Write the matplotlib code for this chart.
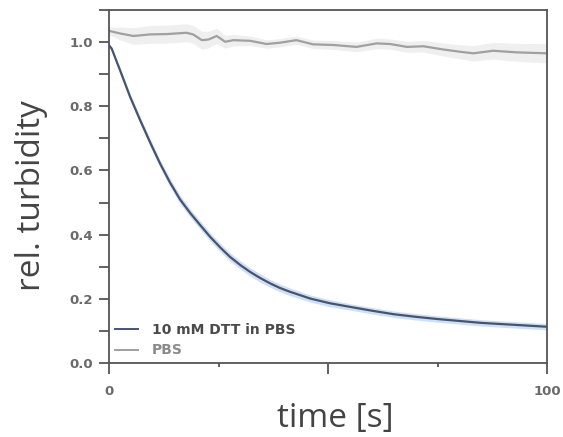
import matplotlib
matplotlib.use("Agg")
import matplotlib.pyplot as plt
import numpy as np
from matplotlib.ticker import FixedLocator

# ---- data ----
t_dtt = [0, 0.6, 2.5, 4.8, 7.1, 9.4, 11.6, 13.9, 16.2, 18.5, 20.8, 23.1, 25.4, 27.6,
         30, 32.2, 34.5, 36.8, 39, 41.3, 45.9, 50.5, 55, 60, 65, 70, 75, 80, 85, 90,
         95, 100]
y_dtt = [0.99, 0.98, 0.913, 0.83, 0.757, 0.687, 0.623, 0.563, 0.51, 0.468, 0.43,
         0.393, 0.36, 0.331, 0.305, 0.284, 0.265, 0.248, 0.234, 0.222, 0.201, 0.186,
         0.175, 0.163, 0.152, 0.144, 0.137, 0.131, 0.125, 0.121, 0.117, 0.113]
err_dtt = [0.004, 0.005, 0.008, 0.01, 0.011, 0.012, 0.012, 0.013, 0.013, 0.013, 0.013,
           0.013, 0.013, 0.013, 0.013, 0.013, 0.013, 0.012, 0.012, 0.012, 0.011, 0.011,
           0.01, 0.01, 0.01, 0.01, 0.01, 0.01, 0.01, 0.01, 0.01, 0.01]

t_pbs = [0, 2.5, 5.6, 9.4, 13.2, 17.7, 19.2, 21.2, 22.7, 24.6, 26.5, 28.4, 32.2, 36,
         39, 42.8, 46.6, 51.2, 56.5, 61.1, 64.2, 68, 71.8, 76.3, 80.1, 83.2, 87.7,
         93.1, 100]
y_pbs = [1.035, 1.027, 1.019, 1.024, 1.025, 1.029, 1.024, 1.006, 1.008, 1.019, 1.001,
         1.006, 1.004, 0.994, 0.998, 1.006, 0.993, 0.991, 0.985, 0.996, 0.994, 0.985,
         0.987, 0.977, 0.970, 0.965, 0.973, 0.968, 0.965]
err_pbs = [0.012, 0.02, 0.026, 0.028, 0.028, 0.028, 0.028, 0.028, 0.026, 0.024, 0.02,
           0.018, 0.015, 0.013, 0.013, 0.013, 0.013, 0.014, 0.015, 0.016, 0.016, 0.017,
           0.018, 0.02, 0.022, 0.024, 0.026, 0.028, 0.03]

labels = ["10 mM DTT in PBS", "PBS"]
x_major = [0, 50, 100]
x_minor = [25, 75]
x_ticklabels = ["0", "", "100"]
y_major = [0.0, 0.2, 0.4, 0.6, 0.8, 1.0]
y_minor = [0.1, 0.3, 0.5, 0.7, 0.9, 1.1]

# ---- figure ----
fig = plt.figure(figsize=(5.63, 4.37), dpi=100)
ax = fig.add_axes([109/563, 1 - 363/437, (547-109)/563, (363-10)/437])

spine_c = "#555555"
td = np.array(t_dtt); yd = np.array(y_dtt); ed = np.array(err_dtt)
tp = np.array(t_pbs); yp = np.array(y_pbs); ep = np.array(err_pbs)

ax.fill_between(tp, yp - ep, yp + ep, color="#efefef", lw=0, zorder=1)
ax.fill_between(td, yd - ed, yd + ed, color="#cfe0f6", lw=0, zorder=1)
l1, = ax.plot(td, yd, color="#465470", lw=1.6, zorder=3, label=labels[0])
l2, = ax.plot(tp, yp, color="#a0a0a0", lw=1.6, zorder=2, label=labels[1])

ax.set_xlim(0, 100)
ax.set_ylim(0, 1.10)

for s in ax.spines.values():
    s.set_color(spine_c)
    s.set_linewidth(1.3)

ax.xaxis.set_major_locator(FixedLocator(x_major))
ax.xaxis.set_minor_locator(FixedLocator(x_minor))
ax.set_xticklabels(x_ticklabels)
ax.yaxis.set_major_locator(FixedLocator(y_major))
ax.yaxis.set_minor_locator(FixedLocator(y_minor))
ax.set_yticklabels([f"{v:.1f}" for v in y_major])

ax.tick_params(axis="both", which="both", direction="out", color=spine_c, width=1.3)
ax.tick_params(axis="y", which="both", length=7.5, pad=4)
ax.tick_params(axis="x", which="major", length=8, pad=8)
ax.tick_params(axis="x", which="minor", length=3)
for lab in ax.get_xticklabels() + ax.get_yticklabels():
    lab.set_fontfamily("DejaVu Sans")
    lab.set_fontweight("bold")
    lab.set_fontsize(9.5)
    lab.set_color("#6a6a6a")

ax.set_ylabel("rel. turbidity", fontsize=24, family="Open Sans", color="#444444")
ax.yaxis.set_label_coords(-0.14, 0.475)
ax.set_xlabel("time [s]", fontsize=24, family="Open Sans", color="#444444", labelpad=3)
ax.xaxis.label.set_x(0.5 + 7/438)

leg = ax.legend(handles=[l1, l2], loc="lower left", bbox_to_anchor=(0.0, 0.0),
                frameon=False, handlelength=1.7, handletextpad=1.0,
                labelspacing=0.5, borderaxespad=0.0,
                prop={"family": "DejaVu Sans", "weight": "bold", "size": 10})
for txt, c in zip(leg.get_texts(), ["#4a4a4a", "#8a8a8a"]):
    txt.set_color(c)
for h in leg.legend_handles:
    h.set_linewidth(1.4)

fig.savefig("out.png", dpi=100)
